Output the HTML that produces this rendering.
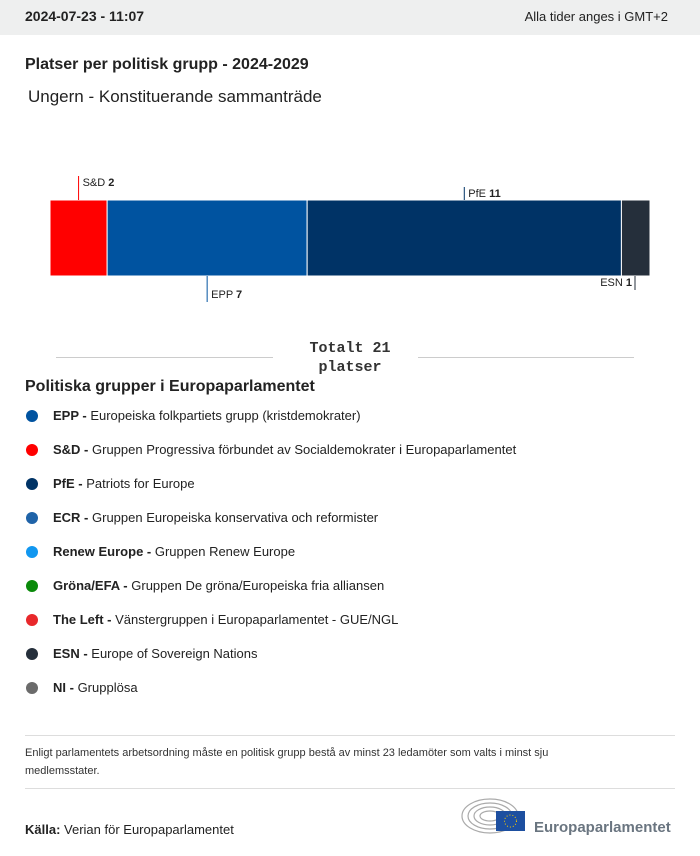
<!DOCTYPE html>
<html><head><meta charset="utf-8"><style>
body{margin:0;width:700px;height:856px;background:#fff;font-family:"Liberation Sans",sans-serif;color:#222;position:relative;overflow:hidden}
.abs{position:absolute}
.hdr{left:0;top:0;width:700px;height:35px;background:#eeefef}
.leg{position:absolute;left:25px;font-size:13px;color:#222}
.leg span.d{position:absolute;left:1px;top:2px;width:12px;height:12px;border-radius:50%}
.leg .t{position:absolute;left:28px;top:0;white-space:nowrap}
</style></head><body>
<div class="abs hdr"></div>
<div class="abs" style="left:25px;top:8px;font-size:14px;font-weight:bold">2024-07-23 - 11:07</div>
<div class="abs" style="right:32px;top:9px;font-size:13px">Alla tider anges i GMT+2</div>
<div class="abs" style="left:25px;top:56px;font-size:16px;font-weight:bold">Platser per politisk grupp - 2024-2029</div>
<div class="abs" style="left:28px;top:87px;font-size:17px">Ungern - Konstituerande sammanträde</div>
<svg class="abs" style="left:0;top:160px" width="700" height="150" id="chart"></svg>
<div class="abs" style="left:56px;top:357px;width:217px;height:1px;background:#ccc"></div>
<div class="abs" style="left:418px;top:357px;width:216px;height:1px;background:#ccc"></div>
<div class="abs" style="left:290px;top:339px;width:120px;text-align:center;font-family:'Liberation Mono',monospace;font-weight:bold;font-size:15px;line-height:19px;color:#333">Totalt 21<br>platser</div>
<div class="abs" style="left:25px;top:378px;font-size:16px;font-weight:bold">Politiska grupper i Europaparlamentet</div>
<div id="legend"></div>
<div class="abs" style="left:25px;top:735px;width:650px;height:1px;background:#ddd"></div>
<div class="abs" style="left:25px;top:744px;width:600px;font-size:11px;line-height:18px;color:#333">Enligt parlamentets arbetsordning måste en politisk grupp bestå av minst 23 ledamöter som valts i minst sju<br>medlemsstater.</div>
<div class="abs" style="left:25px;top:788px;width:650px;height:1px;background:#ddd"></div>
<div class="abs" style="left:25px;top:822px;font-size:13px"><b>Källa:</b> Verian för Europaparlamentet</div>
<svg class="abs" style="left:460px;top:796px" width="70" height="40">
<g fill="none" stroke="#aaa" stroke-width="1.2">
<ellipse cx="30" cy="20" rx="28" ry="17"/><ellipse cx="30" cy="20" rx="22" ry="13"/><ellipse cx="30" cy="20" rx="16" ry="9"/><ellipse cx="30" cy="20" rx="10" ry="5"/></g>
<rect x="36" y="15" width="29" height="20" fill="#1d4fa0"/>
<circle cx="50.5" cy="25" r="6" fill="none" stroke="#fc0" stroke-dasharray="1 2"/>
</svg>
<div class="abs" style="left:534px;top:819px;font-size:15px;font-weight:bold;color:#6a7580">Europaparlamentet</div>
<script>
const groups=["S&D","EPP","PfE","ESN"];
const seats=[2,7,11,1];
const colors=["#ff0000","#0053a0","#003366","#252f3b"];
const labelPos=["top","bottom","top","bottom"];
const ns="http://www.w3.org/2000/svg";
const svg=document.getElementById("chart");
const total=seats.reduce((a,b)=>a+b,0);
const x0=50,W=600,y0=40,h=76;
const xs=v=>x0+v/total*W;
let cum=0;
groups.forEach((g,i)=>{
  const a=xs(cum),b=xs(cum+seats[i]);cum+=seats[i];
  const r=document.createElementNS(ns,"rect");
  r.setAttribute("x",a);r.setAttribute("y",y0);r.setAttribute("width",b-a);r.setAttribute("height",h);
  r.setAttribute("fill",colors[i]);r.setAttribute("stroke","#fff");r.setAttribute("stroke-width","1");
  
  
  svg.appendChild(r);
  let m=(a+b)/2; if(i===groups.length-1) m=b-15;
  const top=labelPos[i]==="top";
  const len=(i===0)?24:(i===2?13:(i===1?26:14));
  const l=document.createElementNS(ns,"line");
  l.setAttribute("x1",m);l.setAttribute("x2",m);
  l.setAttribute("y1",top?y0-len:y0+h);l.setAttribute("y2",top?y0:y0+h+len);
  l.setAttribute("stroke",colors[i]);l.setAttribute("stroke-width","1");
  
  
  svg.appendChild(l);
  const t=document.createElementNS(ns,"text");
  const end=(i===groups.length-1);
  t.setAttribute("x",end?m-3:m+4);
  t.setAttribute("y",top?y0-len+10:y0+h+len-4);
  if(end)t.setAttribute("text-anchor","end");
  t.setAttribute("font-size","11");t.setAttribute("fill","#222");
  t.innerHTML=g.replace("&","&amp;")+' <tspan font-weight="bold">'+seats[i]+'</tspan>';
  
  
  svg.appendChild(t);
});
const legAbbr=["EPP","S&D","PfE","ECR","Renew Europe","Gröna/EFA","The Left","ESN","NI"];
const legName=["Europeiska folkpartiets grupp (kristdemokrater)","Gruppen Progressiva förbundet av Socialdemokrater i Europaparlamentet","Patriots for Europe","Gruppen Europeiska konservativa och reformister","Gruppen Renew Europe","Gruppen De gröna/Europeiska fria alliansen","Vänstergruppen i Europaparlamentet - GUE/NGL","Europe of Sovereign Nations","Grupplösa"];
const legCol=["#0053a0","#ff0000","#003366","#1f63a8","#1197f0","#0a8a0a","#e8282b","#252f3b","#6b6b6b"];
const lg=document.getElementById("legend");
legAbbr.forEach((a,i)=>{
  const d=document.createElement("div");d.className="leg";d.style.top=(408+i*34)+"px";
  
  
  d.innerHTML='<span class="d" style="background:'+legCol[i]+'"></span><span class="t"><b>'+a.replace("&","&amp;")+' -</b> '+legName[i]+'</span>';
  lg.appendChild(d);
});
</script>
</body></html>
